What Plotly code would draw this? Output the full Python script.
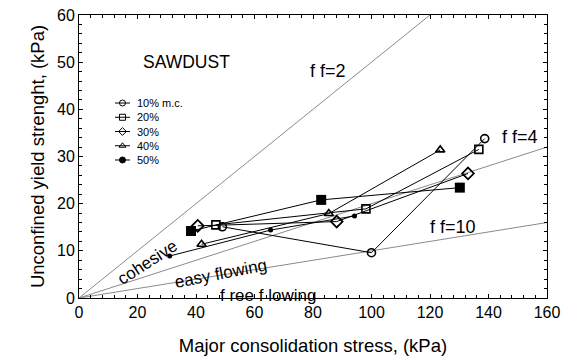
import plotly.graph_objects as go

# ---- data ----
mc10_x = [49.0, 100.0, 138.7]
mc10_y = [15.1, 9.6, 33.8]
mc20_x = [46.8, 98.1, 136.7]
mc20_y = [15.5, 18.9, 31.5]
mc30_x = [40.6, 88.1, 133.0]
mc30_y = [15.3, 16.2, 26.4]
mc40_x = [41.9, 85.4, 123.5]
mc40_y = [11.4, 17.9, 31.4]
mc50_x = [38.3, 82.8, 130.2]
mc50_y = [14.2, 20.8, 23.4]
extra_x = [31.0, 65.5, 94.2]
extra_y = [8.9, 14.4, 17.4]

ff_slopes = [0.5, 0.2, 0.1]          # flow-function boundary lines y = s*x
ff_range = [0, 160]

x_ticks = [0, 20, 40, 60, 80, 100, 120, 140, 160]
y_ticks = [0, 10, 20, 30, 40, 50, 60]

legend_labels = ["10% m.c.", "20%", "30%", "40%", "50%"]
legend_symbols = ["circle-open", "square-open", "diamond-open", "triangle-up-open", "circle"]

FONT = "Liberation Sans, Arial, sans-serif"

fig = go.Figure()

for s in ff_slopes:
    fig.add_trace(go.Scatter(
        x=ff_range, y=[s * v for v in ff_range], mode="lines",
        line=dict(color="#8a8a8a", width=1), hoverinfo="skip"))

series = [
    (mc10_x, mc10_y, "circle-open", 8, 1.6),
    (mc20_x, mc20_y, "square-open", 8, 1.6),
    (mc30_x, mc30_y, "diamond-open", 9, 1.8),
    (mc40_x, mc40_y, "triangle-up-open", 8, 1.6),
    (mc50_x, mc50_y, "square", 10, 0),
]
for (xs, ys, sym, sz, lw), name in zip(series, legend_labels):
    fig.add_trace(go.Scatter(
        x=xs, y=ys, mode="lines+markers", name=name,
        line=dict(color="black", width=1),
        marker=dict(symbol=sym, size=sz, color="black",
                    line=dict(color="black", width=lw))))

fig.add_trace(go.Scatter(
    x=extra_x, y=extra_y, mode="lines+markers",
    line=dict(color="black", width=1),
    marker=dict(symbol="circle", size=5, color="black")))

# ---- hand-made compact legend on its own small axes ----
for i, (lab, sym) in enumerate(zip(legend_labels, legend_symbols)):
    fig.add_trace(go.Scatter(
        x=[0, 0.5, 1], y=[i, i, i], xaxis="x2", yaxis="y2",
        mode="lines", line=dict(color="black", width=1), hoverinfo="skip"))
    fig.add_trace(go.Scatter(
        x=[0.5], y=[i], xaxis="x2", yaxis="y2", mode="markers",
        marker=dict(symbol=sym, size=6, color="black",
                    line=dict(color="black", width=1)), hoverinfo="skip"))
    fig.add_annotation(x=1.33, y=i, xref="x2", yref="y2", text=lab,
                       showarrow=False, xanchor="left",
                       font=dict(family=FONT, size=11, color="black"))

annots = [
    dict(x=36.6, y=50.1, text="SAWDUST", size=17.5, angle=0),
    dict(x=85.1, y=48.1, text="f f=2", size=18, angle=0),
    dict(x=150.9, y=34.2, text="f f=4", size=18, angle=0),
    dict(x=127.9, y=15.05, text="f f=10", size=18, angle=0),
    dict(x=23.4, y=7.5, text="cohesive", size=17, angle=-33),
    dict(x=48.7, y=5.3, text="easy flowing", size=17, angle=-11),
    dict(x=64.6, y=0.6, text="f ree f lowing", size=17, angle=0),
]
for a in annots:
    fig.add_annotation(x=a["x"], y=a["y"], text=a["text"], showarrow=False,
                       textangle=a["angle"],
                       font=dict(family=FONT, size=a["size"], color="black"))

axis_common = dict(
    showline=True, linecolor="black", linewidth=1, mirror="allticks",
    ticks="inside", ticklen=4, tickcolor="black", showgrid=False, zeroline=False,
    automargin=False,
    tickfont=dict(family=FONT, size=16, color="black"),
)
xaxis = dict(range=[0, 160], tickvals=x_ticks,
             minor=dict(dtick=4, ticks="inside", ticklen=3, tickcolor="black"),
             title=dict(text="Major consolidation stress, (kPa)",
                        font=dict(family=FONT, size=18.5, color="black"), standoff=18),
             **axis_common)
yaxis = dict(range=[0, 60], tickvals=y_ticks,
             minor=dict(dtick=2, ticks="inside", ticklen=3, tickcolor="black"),
             title=dict(text="Unconfined yield strenght, (kPa)",
                        font=dict(family=FONT, size=18.5, color="black"), standoff=7),
             **axis_common)

fig.update_layout(
    width=574, height=361,
    margin=dict(l=79, r=27, t=15, b=63),
    paper_bgcolor="white", plot_bgcolor="white",
    font=dict(family=FONT, color="black"),
    showlegend=False,
    xaxis=xaxis, yaxis=yaxis,
    xaxis2=dict(domain=[0.0769, 0.2051], range=[0, 4], anchor="y2",
                visible=False, fixedrange=True),
    yaxis2=dict(domain=[0.4625, 0.7141], range=[4.5, -0.5], anchor="x2",
                visible=False, fixedrange=True),
)

# remove the page's default body margin so the figure sits at the window corner
fig.write_html("out.html",
               config={"displayModeBar": False},
               post_script="document.body.style.margin='0';document.body.style.overflow='hidden';")
